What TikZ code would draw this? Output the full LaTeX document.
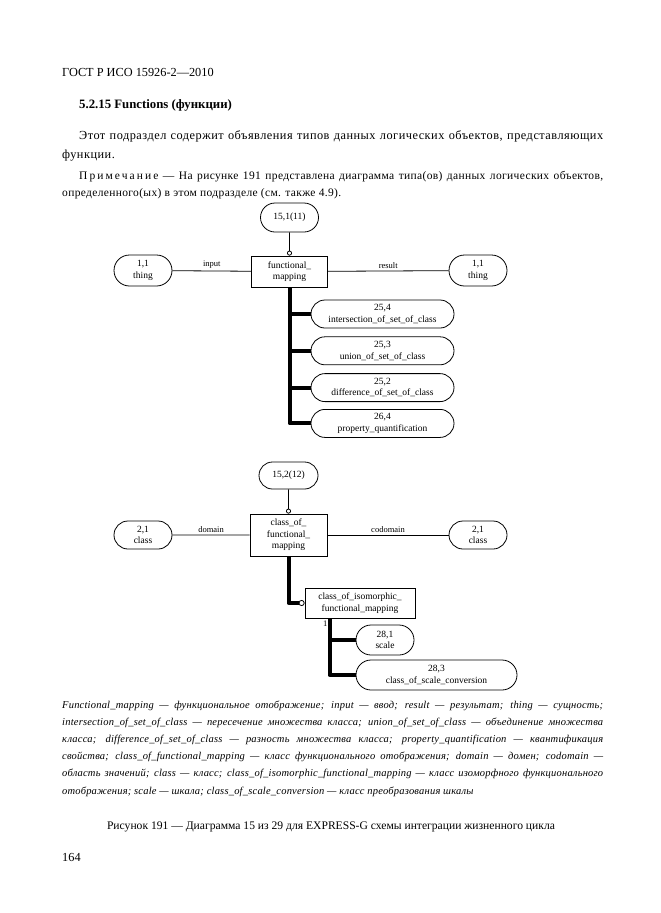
\documentclass[tikz,border=0pt]{standalone}
\usepackage{fontspec}
\setmainfont{Liberation Serif}
\usetikzlibrary{arrows.meta, positioning, shapes.misc}
\tikzset{
  entity/.style={
    rectangle,
    draw,
    line width=0.8pt,
    align=center,
    inner sep=1pt,
    font=\fontsize{9.5}{11.5}\selectfont
  },
  typeref/.style={
    rounded rectangle,
    draw,
    line width=0.8pt,
    align=center,
    inner sep=1pt,
    font=\fontsize{9.5}{11.5}\selectfont
  },
  rel/.style={line width=0.8pt},
  refline/.style={line width=0.8pt, -{Circle[open, length=5pt]}},
  trunk/.style={line width=4pt, line join=round},
  lbl/.style={font=\fontsize{8.5}{9}\selectfont, inner sep=2pt},
  pagetext/.style={inner sep=0pt, font=\fontsize{12.3}{19}\selectfont},
  parablock/.style={inner sep=0pt, text width=541pt, align=justify, anchor=base west}
}
\begin{document}
\begin{tikzpicture}[x=1pt, y=-1pt]
  \useasboundingbox (0,0) rectangle (661,913);

  % page text
  \node[pagetext, anchor=base west] (gost) at (62,76) {ГОСТ Р ИСО 15926-2—2010};
  \node[pagetext, anchor=base west, font=\fontsize{12.8}{19}\selectfont\bfseries] (sect) at (79,108) {5.2.15 Functions (функции)};
  \node[parablock, font=\fontsize{12.3}{19}\selectfont\addfontfeature{LetterSpace=4}] (intro) at (62,139)
    {\hspace*{17pt}Этот подраздел содержит объявления типов данных логических объектов, представляющих\linebreak
     функции.};
  \node[parablock, font=\fontsize{11.5}{17}\selectfont\addfontfeature{LetterSpace=3}] (note) at (62,179)
    {\hspace*{17pt}{\addfontfeature{LetterSpace=18}Примечание} — На рисунке 191 представлена диаграмма типа(ов) данных логических объектов,\linebreak
     определенного(ых) в этом подразделе (см. также 4.9).};

  % diagram 15,1
  \node[typeref, minimum width=60pt, minimum height=29pt] (ref1) at (289.5,217.5) {15,1(11)};
  \node[entity, minimum width=76pt, minimum height=31pt] (fm) at (289.5,271.5) {functional\_\\mapping};
  \node[typeref, minimum width=60pt, minimum height=31pt] (thingin) at (143,270.5) {1,1\\thing};
  \node[typeref, minimum width=60pt, minimum height=31pt] (thingout) at (478,270.5) {1,1\\thing};
  \node[typeref, minimum width=145pt, minimum height=28pt] (inters) at (382.5,314) {25,4\\intersection\_of\_set\_of\_class};
  \node[typeref, minimum width=145pt, minimum height=28pt, below=8pt of inters] (union) {25,3\\union\_of\_set\_of\_class};
  \node[typeref, minimum width=145pt, minimum height=28pt, below=8pt of union] (diff) {25,2\\difference\_of\_set\_of\_class};
  \node[typeref, minimum width=145pt, minimum height=28pt, below=7pt of diff] (propq) {26,4\\property\_quantification};

  \draw[refline] (ref1) -- (fm);
  \draw[rel] (thingin) -- node[lbl, above]{input} (fm);
  \draw[rel] (fm) -- node[lbl, above]{result} (thingout);
  \foreach \sub in {inters, union, diff, propq}
    \draw[trunk] (fm) |- (\sub);

  % diagram 15,2
  \node[typeref, minimum width=61pt, minimum height=27pt] (ref2) at (288.5,475.5) {15,2(12)};
  \node[entity, minimum width=77pt, minimum height=42pt] (cfm) at (288.5,535) {class\_of\_\\functional\_\\mapping};
  \node[typeref, minimum width=60pt, minimum height=28pt] (classin) at (143,535) {2,1\\class};
  \node[typeref, minimum width=60pt, minimum height=28pt] (classout) at (478,535) {2,1\\class};
  \node[entity, minimum width=110pt, minimum height=30pt] (iso) at (360,603) {class\_of\_isomorphic\_\\functional\_mapping};
  \node[typeref, minimum width=60pt, minimum height=30pt] (scale) at (385,640) {28,1\\scale};
  \node[typeref, minimum width=163pt, minimum height=30pt] (conv) at (436.5,675) {28,3\\class\_of\_scale\_conversion};
  \coordinate (isofoot) at ([xshift=25pt]iso.south west);

  \draw[refline] (ref2) -- (cfm);
  \draw[rel] (classin) -- node[lbl, above]{domain} (cfm);
  \draw[rel] (cfm) -- node[lbl, above]{codomain} (classout);
  \draw[trunk, -{Circle[open, length=6pt, width=6pt, line width=0.8pt]}] (cfm) |- (iso);
  \node[lbl, below left=0pt and 0pt of isofoot] (one) {1};
  \draw[trunk] (isofoot) |- (scale);
  \draw[trunk] (isofoot) |- (conv);

  % legend and caption
  \node[parablock, font=\fontsize{10.5}{17.2}\selectfont\itshape\addfontfeature{LetterSpace=2}] (legend) at (62,708)
    {Functional\_mapping — функциональное отображение; input — ввод; result — результат; thing — сущность;\linebreak
     intersection\_of\_set\_of\_class — пересечение множества класса; union\_of\_set\_of\_class — объединение множества\linebreak
     класса; difference\_of\_set\_of\_class — разность множества класса; property\_quantification — квантификация\linebreak
     свойства; class\_of\_functional\_mapping — класс функционального отображения; domain — домен; codomain —\linebreak
     область значений; class — класс; class\_of\_isomorphic\_functional\_mapping — класс изоморфного функционального\linebreak
     отображения; scale — шкала; class\_of\_scale\_conversion — класс преобразования шкалы};
  \node[pagetext, anchor=base, font=\fontsize{11.6}{14}\selectfont] (caption) at (331,829)
    {Рисунок 191 — Диаграмма 15 из 29 для EXPRESS-G схемы интеграции жизненного цикла};
  \node[pagetext, anchor=base west] (pageno) at (62,861) {164};
\end{tikzpicture}
\end{document}
